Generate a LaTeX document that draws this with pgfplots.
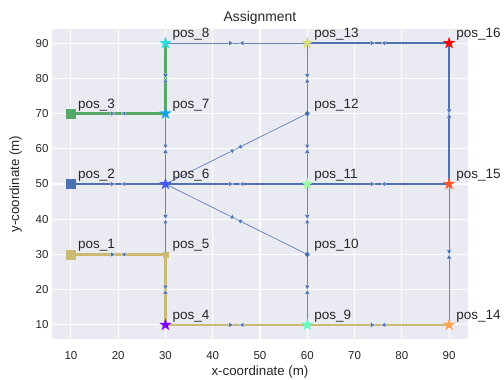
\documentclass[border=0pt]{standalone}
\usepackage{fontspec}
\setmainfont{Liberation Sans}
\usepackage{pgfplots}
\pgfplotsset{compat=1.18}
\definecolor{bg}{HTML}{EAEAF2}
\definecolor{txt}{HTML}{262626}
\definecolor{sbblue}{HTML}{4C72B0}
\definecolor{sbgreen}{HTML}{55A868}
\definecolor{sbyellow}{HTML}{CCB974}
\definecolor{s4}{HTML}{8000FF}
\definecolor{s6}{HTML}{4757FB}
\definecolor{s7}{HTML}{0EA4F0}
\definecolor{s8}{HTML}{2ADDDD}
\definecolor{s9}{HTML}{63FBC3}
\definecolor{s11}{HTML}{9CFBA4}
\definecolor{s13}{HTML}{D4DD80}
\definecolor{s14}{HTML}{FFA457}
\definecolor{s15}{HTML}{FF572C}
\definecolor{s16}{HTML}{FF0000}
\pgfdeclareplotmark{fstar}{%
  \pgfpathmoveto{\pgfpointpolar{90}{\pgfplotmarksize}}%
  \pgfpathlineto{\pgfpointpolar{126}{0.382\pgfplotmarksize}}%
  \pgfpathlineto{\pgfpointpolar{162}{\pgfplotmarksize}}%
  \pgfpathlineto{\pgfpointpolar{198}{0.382\pgfplotmarksize}}%
  \pgfpathlineto{\pgfpointpolar{234}{\pgfplotmarksize}}%
  \pgfpathlineto{\pgfpointpolar{270}{0.382\pgfplotmarksize}}%
  \pgfpathlineto{\pgfpointpolar{306}{\pgfplotmarksize}}%
  \pgfpathlineto{\pgfpointpolar{342}{0.382\pgfplotmarksize}}%
  \pgfpathlineto{\pgfpointpolar{18}{\pgfplotmarksize}}%
  \pgfpathlineto{\pgfpointpolar{54}{0.382\pgfplotmarksize}}%
  \pgfpathclose\pgfusepathqfillstroke}
\tikzset{arrowmk/.style={fill=sbblue, draw=white, line width=0.25pt}}
\pgfplotsset{
  thinedge/.style={color=sbblue!85!white, line width=0.75pt, mark=none},
  arrowhd/.style={only marks, mark=triangle*, mark size=3pt},
  starm/.style={only marks, mark=fstar, mark size=6pt, mark options={draw=#1, fill=#1, line width=0.2pt}},
}
\begin{document}
\begin{tikzpicture}
\begin{axis}[at={(0,0)}, anchor=south west, scale only axis,
  width=416pt, height=310pt,
  xmin=6, xmax=94, ymin=6, ymax=94,
  xtick={10,20,...,90}, ytick={10,20,...,90},
  grid=major, grid style={white, line width=1.1pt},
  axis background/.style={fill=bg},
  axis line style={draw=none},
  major tick length=0pt,
  tick label style={font=\fontsize{11.5}{13}\selectfont, text=txt},
  xticklabel style={yshift=-9pt},
  /pgf/number format/assume math mode=true,
  xlabel={x-coordinate (m)}, ylabel={y-coordinate (m)},
  label style={font=\fontsize{13.3}{15}\selectfont, text=txt},
  xlabel style={yshift=1pt},
  ylabel style={yshift=7pt},
  title={Assignment},
  title style={font=\fontsize{13.9}{16}\selectfont, text=txt, yshift=-5pt},
  clip=false]
% thin graph edges
\addplot[thinedge] coordinates {(10,30) (30,30)};
\addplot[thinedge] coordinates {(10,50) (30,50)};
\addplot[thinedge] coordinates {(10,70) (30,70)};
\addplot[thinedge] coordinates {(30,10) (30,30)};
\addplot[thinedge] coordinates {(30,30) (30,50)};
\addplot[thinedge] coordinates {(30,50) (30,70)};
\addplot[thinedge] coordinates {(30,70) (30,90)};
\addplot[thinedge] coordinates {(30,10) (60,10)};
\addplot[thinedge] coordinates {(30,50) (60,50)};
\addplot[thinedge] coordinates {(30,90) (60,90)};
\addplot[thinedge] coordinates {(30,50) (60,30)};
\addplot[thinedge] coordinates {(30,50) (60,70)};
\addplot[thinedge] coordinates {(60,10) (60,30)};
\addplot[thinedge] coordinates {(60,30) (60,50)};
\addplot[thinedge] coordinates {(60,50) (60,70)};
\addplot[thinedge] coordinates {(60,70) (60,90)};
\addplot[thinedge] coordinates {(60,10) (90,10)};
\addplot[thinedge] coordinates {(60,50) (90,50)};
\addplot[thinedge] coordinates {(60,90) (90,90)};
\addplot[thinedge] coordinates {(90,10) (90,50)};
\addplot[thinedge] coordinates {(90,50) (90,90)};
% assigned paths
\addplot[color=sbyellow, line width=2.7pt, mark=none] coordinates {(10,30) (30,30) (30,10) (60,10) (90,10)};
\addplot[color=sbblue, line width=2.7pt, mark=none] coordinates {(10,50) (30,50) (60,50) (90,50) (90,90) (60,90)};
\addplot[color=sbgreen, line width=2.7pt, mark=none] coordinates {(10,70) (30,70) (30,90)};
% arrow heads (pairs pointing to edge midpoints)
\addplot[arrowhd, mark options={arrowmk, rotate=-90, yshift=-6pt}] coordinates {(20,30) (20,50) (20,70) (45,10) (45,50) (45,90) (75,10) (75,50) (75,90)};
\addplot[arrowhd, mark options={arrowmk, rotate=90, yshift=-6pt}] coordinates {(20,30) (20,50) (20,70) (45,10) (45,50) (45,90) (75,10) (75,50) (75,90)};
\addplot[arrowhd, mark options={arrowmk, rotate=0, yshift=-3pt}] coordinates {(30,20) (30,40) (30,60) (30,80) (60,20) (60,40) (60,60) (60,80) (90,30) (90,70)};
\addplot[arrowhd, mark options={arrowmk, rotate=180, yshift=-3pt}] coordinates {(30,20) (30,40) (30,60) (30,80) (60,20) (60,40) (60,60) (60,80) (90,30) (90,70)};
\addplot[arrowhd, mark options={arrowmk, rotate=-63.5, yshift=-4.5pt}] coordinates {(45,60)};
\addplot[arrowhd, mark options={arrowmk, rotate=116.5, yshift=-4.5pt}] coordinates {(45,60)};
\addplot[arrowhd, mark options={arrowmk, rotate=-116.5, yshift=-4.5pt}] coordinates {(45,40)};
\addplot[arrowhd, mark options={arrowmk, rotate=63.5, yshift=-4.5pt}] coordinates {(45,40)};
% node markers
\addplot[only marks, mark=square*, mark size=4.5pt, mark options={draw=sbyellow, fill=sbyellow}] coordinates {(10,30)};
\addplot[only marks, mark=square*, mark size=4.5pt, mark options={draw=sbblue, fill=sbblue}] coordinates {(10,50)};
\addplot[only marks, mark=square*, mark size=4.5pt, mark options={draw=sbgreen, fill=sbgreen}] coordinates {(10,70)};
\addplot[only marks, mark=square*, mark size=2.7pt, mark options={draw=sbyellow, fill=sbyellow}] coordinates {(30,30)};
\addplot[only marks, mark=*, mark size=2pt, mark options={draw=sbblue, fill=sbblue}] coordinates {(60,30) (60,70)};
\addplot[starm=s4] coordinates {(30,10)};
\addplot[starm=s6] coordinates {(30,50)};
\addplot[starm=s7] coordinates {(30,70)};
\addplot[starm=s8] coordinates {(30,90)};
\addplot[starm=s9] coordinates {(60,10)};
\addplot[starm=s11] coordinates {(60,50)};
\addplot[starm=s13] coordinates {(60,90)};
\addplot[starm=s14] coordinates {(90,10)};
\addplot[starm=s15] coordinates {(90,50)};
\addplot[starm=s16] coordinates {(90,90)};
% labels
\addplot[draw=none, mark=none, nodes near coords, point meta=explicit symbolic,
  nodes near coords style={anchor=base west, inner sep=0pt, xshift=7pt, yshift=5.5pt,
    font=\fontsize{13.5}{15}\selectfont, text=txt}]
  table[meta=label] {
x y label
10 30 pos\_1
10 50 pos\_2
10 70 pos\_3
30 10 pos\_4
30 30 pos\_5
30 50 pos\_6
30 70 pos\_7
30 90 pos\_8
60 10 pos\_9
60 30 pos\_10
60 50 pos\_11
60 70 pos\_12
60 90 pos\_13
90 10 pos\_14
90 50 pos\_15
90 90 pos\_16
};
\end{axis}
\pgfresetboundingbox
\useasboundingbox (-52pt,-41pt) rectangle (452pt,339pt);
\end{tikzpicture}
\end{document}
